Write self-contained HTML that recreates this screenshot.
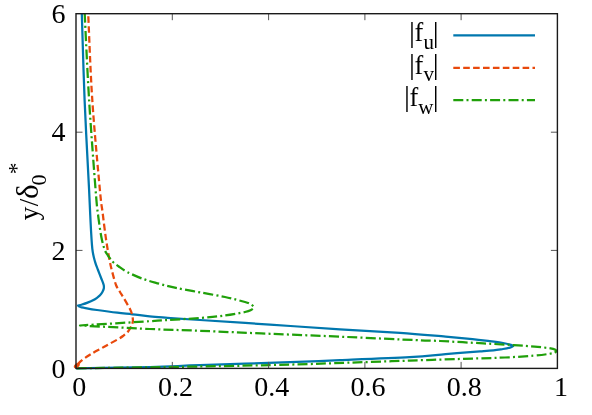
<!DOCTYPE html>
<html>
<head>
<meta charset="utf-8">
<style>
html,body{margin:0;padding:0;background:#fff;}
body{width:592px;height:415px;overflow:hidden;}
svg{display:block;will-change:transform;}
text{font-family:"Liberation Serif",serif;fill:#000;}
</style>
</head>
<body>
<svg width="592" height="415" viewBox="0 0 592 415">
<rect x="0" y="0" width="592" height="415" fill="#fff"/>

<!-- curves -->
<g fill="none" stroke-width="2.25" stroke-linejoin="round">
<!-- blue |f_u| -->
<path id="cu" stroke="#0077ae" d="M81.8,13.7 C82.3,28.1 83.4,70.6 84.6,100.0 C85.8,129.4 88.1,169.6 89.1,190.0 C90.1,210.4 90.1,212.7 90.6,222.5 C91.1,232.3 91.6,242.1 92.3,248.6 C93.0,255.1 94.0,258.0 95.0,261.6 C96.0,265.2 96.9,267.1 98.0,270.0 C99.1,272.9 100.5,276.5 101.5,279.0 C102.5,281.5 103.3,283.4 103.7,285.0 C104.1,286.6 104.0,287.3 103.8,288.5 C103.6,289.7 103.0,290.9 102.4,292.0 C101.8,293.1 100.9,294.3 100.0,295.3 C99.1,296.3 98.2,296.9 97.0,297.8 C95.8,298.7 94.1,299.7 92.5,300.5 C90.9,301.3 89.3,301.9 87.6,302.6 C85.8,303.3 83.6,304.0 82.0,304.5 C80.4,305.0 78.8,305.4 78.1,305.6 C78.4,305.8 79.1,306.5 80.0,306.8 C80.9,307.1 80.7,307.2 83.5,307.7 C86.3,308.2 91.4,309.2 97.0,310.0 C102.6,310.8 111.4,312.0 117.3,312.7 C123.2,313.4 127.1,313.7 132.5,314.3 C137.9,314.9 143.8,315.8 149.7,316.4 C155.5,317.0 159.2,317.2 167.6,317.8 C176.0,318.4 182.9,318.9 200.0,320.0 C217.1,321.1 246.7,323.1 270.0,324.6 C293.3,326.2 318.3,327.9 340.0,329.3 C361.7,330.7 382.4,331.7 400.0,332.9 C417.6,334.1 433.5,335.6 445.6,336.6 C457.7,337.7 465.1,338.4 472.5,339.2 C479.9,340.0 484.6,340.6 489.7,341.2 C494.8,341.8 499.6,342.4 503.0,343.0 C506.4,343.6 508.3,344.1 510.0,344.6 C511.7,345.1 513.2,345.6 513.2,346.1 C513.2,346.6 511.7,347.1 510.0,347.6 C508.3,348.1 505.8,348.6 503.0,349.0 C500.2,349.4 497.3,349.9 493.5,350.3 C489.7,350.7 488.0,350.8 480.0,351.4 C472.0,352.0 457.3,353.2 445.6,354.2 C433.9,355.2 427.2,356.2 409.6,357.2 C392.0,358.2 359.9,359.4 340.0,360.2 C320.1,361.0 313.3,361.4 290.0,362.2 C266.7,363.0 223.3,364.4 200.0,365.2 C176.7,366.0 170.7,366.5 150.0,367.0 C129.3,367.5 88.3,368.2 76.0,368.4"/>
<!-- red |f_v| -->
<path id="cv" stroke="#e8490c" stroke-dasharray="6.6 3.3" stroke-dashoffset="7.1" d="M88.2,13.7 C88.9,28.1 90.3,70.6 92.3,100.0 C94.2,129.4 98.2,171.4 99.9,190.0 C101.6,208.6 101.5,203.8 102.5,211.7 C103.5,219.6 104.7,230.1 105.8,237.7 C106.9,245.3 108.0,251.6 109.0,257.2 C110.0,262.8 110.8,266.4 112.0,271.0 C113.2,275.6 114.7,281.5 116.0,285.0 C117.3,288.5 118.7,289.8 120.0,292.0 C121.3,294.2 122.3,295.6 124.0,298.5 C125.7,301.4 128.7,306.6 130.1,309.3 C131.5,312.1 131.7,313.2 132.2,315.0 C132.7,316.8 132.8,318.7 132.9,320.0 C133.0,321.3 132.7,322.0 132.5,323.0 C132.3,324.0 132.2,324.4 131.5,325.8 C130.8,327.2 129.5,329.8 128.1,331.5 C126.7,333.2 124.8,334.6 123.0,336.0 C121.2,337.4 120.5,337.8 117.3,339.6 C114.1,341.4 108.3,344.5 103.8,347.0 C99.3,349.5 94.1,352.1 90.3,354.5 C86.5,356.9 83.1,359.2 80.8,361.2 C78.5,363.2 77.0,365.6 76.2,366.5"/>
<!-- green |f_w| -->
<path id="cw" stroke="#20a00a" stroke-dasharray="10 3.2 2 3.2" stroke-dashoffset="0.9" d="M84.7,13.7 C85.4,28.1 87.3,70.6 89.1,100.0 C90.9,129.4 94.1,170.7 95.6,190.0 C97.1,209.3 97.2,208.1 98.2,216.0 C99.2,223.9 100.4,232.1 101.5,237.7 C102.6,243.3 103.7,246.8 104.7,249.7 C105.7,252.6 106.7,253.5 107.6,255.0 C108.5,256.5 109.1,257.2 110.1,258.5 C111.1,259.8 112.0,261.2 113.5,262.5 C115.0,263.8 116.5,264.9 118.8,266.5 C121.0,268.1 123.1,269.9 127.0,271.9 C130.9,273.9 136.8,276.6 142.2,278.6 C147.5,280.6 153.5,282.1 159.1,283.7 C164.7,285.2 169.2,286.4 176.0,287.9 C182.8,289.3 191.8,290.9 200.0,292.4 C208.2,293.9 217.5,295.4 225.0,297.0 C232.5,298.6 240.7,300.8 245.0,302.0 C249.3,303.2 249.5,303.6 251.0,304.5 C252.5,305.4 253.8,306.6 253.8,307.5 C253.8,308.4 252.5,309.2 251.0,310.0 C249.5,310.8 249.3,311.1 245.0,312.0 C240.7,312.9 232.5,314.5 225.0,315.5 C217.5,316.5 209.6,317.2 200.0,318.0 C190.4,318.8 176.0,319.5 167.6,320.0 C159.2,320.5 164.3,320.3 149.7,321.2 C135.1,322.1 91.6,324.8 80.0,325.5 C91.6,326.1 129.7,328.1 149.7,329.0 C169.7,329.9 179.9,330.0 200.0,330.8 C220.1,331.6 245.4,332.8 270.0,333.8 C294.6,334.8 323.3,335.9 347.5,337.0 C371.7,338.1 399.6,339.4 415.0,340.1 C430.4,340.8 428.6,340.4 440.0,341.0 C451.4,341.6 471.1,342.7 483.4,343.4 C495.7,344.1 504.7,344.5 513.7,345.1 C522.7,345.7 531.5,346.2 537.6,346.8 C543.8,347.4 547.7,347.9 550.6,348.4 C553.5,348.9 554.1,349.2 555.0,349.6 C555.9,350.0 556.2,350.5 556.2,351.0 C556.2,351.5 555.9,352.0 555.0,352.4 C554.1,352.8 554.2,353.1 550.6,353.6 C547.0,354.2 540.9,355.1 533.3,355.7 C525.7,356.3 515.1,357.0 505.0,357.5 C494.9,358.0 488.4,358.1 472.5,358.6 C456.6,359.1 430.4,359.9 409.6,360.6 C388.8,361.3 367.4,362.0 347.5,362.7 C327.6,363.4 314.6,364.0 290.0,364.6 C265.4,365.2 235.7,365.9 200.0,366.5 C164.3,367.1 96.7,368.1 76.0,368.4"/>
</g>
<ellipse cx="76.8" cy="365.6" rx="3.4" ry="2.1" transform="rotate(-40 76.8 365.6)" fill="#e8490c"/>

<!-- legend samples -->
<g fill="none" stroke-width="2.25">
<path stroke="#0077ae" d="M453.3,35.3 H535"/>
<path stroke="#e8490c" stroke-dasharray="6.6 3.3" d="M453.3,67.8 H535"/>
<path stroke="#20a00a" stroke-dasharray="10 3.2 2 3.2" d="M453.3,100.2 H535"/>
</g>

<!-- frame and ticks -->
<g fill="none" stroke="#555" stroke-width="1">
<path d="M172.3,368.4 v-6.5 M268.6,368.4 v-6.5 M364.9,368.4 v-6.5 M461.1,368.4 v-6.5"/>
<path d="M172.3,13.7 v6.5 M268.6,13.7 v6.5 M364.9,13.7 v6.5 M461.1,13.7 v6.5"/>
<path d="M76,250.4 h6.5 M76,132.2 h6.5 M557.4,250.4 h-6.5 M557.4,132.2 h-6.5"/>
</g>
<rect x="76" y="13.7" width="481.4" height="354.7" fill="none" stroke="#1a1a1a" stroke-width="1.4"/>

<!-- tick labels -->
<g font-size="28">
<text x="65.6" y="23.1" text-anchor="end">6</text>
<text x="65.6" y="141.2" text-anchor="end">4</text>
<text x="65.6" y="259.5" text-anchor="end">2</text>
<text x="65.6" y="377.8" text-anchor="end">0</text>
<text x="79.3" y="395.8" text-anchor="middle">0</text>
<text x="175.5" y="395.8" text-anchor="middle">0.2</text>
<text x="271.8" y="395.8" text-anchor="middle">0.4</text>
<text x="368.1" y="395.8" text-anchor="middle">0.6</text>
<text x="464.3" y="395.8" text-anchor="middle">0.8</text>
<text x="560.9" y="395.8" text-anchor="middle">1</text>
</g>

<!-- legend text -->
<g font-size="26.3">
<text x="414.6" y="41.3">f</text><text x="423.6" y="48.8" font-size="21">u</text>
<text x="414.6" y="73.7">f</text><text x="423.6" y="81.2" font-size="21">v</text>
<text x="409.6" y="106.1">f</text><text x="418.3" y="113.6" font-size="21">w</text>
</g>
<g font-size="29.6" text-anchor="middle">
<text x="411.85" y="41.6">|</text><text x="435.65" y="41.6">|</text>
<text x="411.85" y="74">|</text><text x="435.65" y="74">|</text>
<text x="406.85" y="106.4">|</text><text x="435.65" y="106.4">|</text>
</g>

<!-- y label -->
<g transform="translate(37.8,0) rotate(-90)" font-size="27">
<text x="-220.2" y="0">y</text>
<text x="-206.2" y="0">/</text>
<text x="-199" y="0" font-size="31">δ</text>
<text x="-185.6" y="8" font-size="22">0</text>
<text x="-174.2" y="-13.6" font-size="23.5">*</text>
</g>
</svg>
</body>
</html>
